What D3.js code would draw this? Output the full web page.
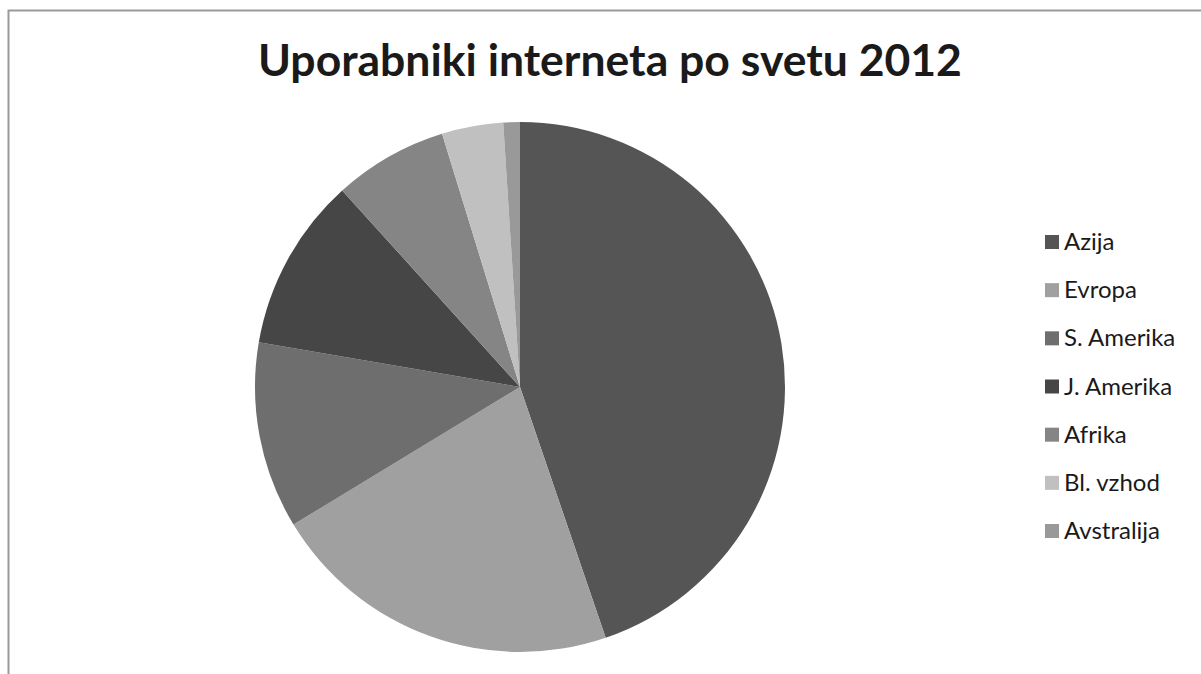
<!DOCTYPE html>
<html>
<head>
<meta charset="utf-8">
<script src="https://cdn.jsdelivr.net/npm/d3@7"></script>
<style>
  html, body { margin: 0; padding: 0; background: #fff; }
  svg { display: block; }
</style>
</head>
<body>
<svg id="chart" width="1201" height="674"></svg>
<script>
// Internet users by world region, 2012 (millions)
const regions = ["Azija", "Evropa", "S. Amerika", "J. Amerika", "Afrika", "Bl. vzhod", "Avstralija"];
const users = [1076.7, 518.5, 273.8, 254.9, 167.3, 90.0, 24.3];
const shades = ["#555555", "#a0a0a0", "#6e6e6e", "#464646", "#858585", "#c0c0c0", "#999999"];
const title = "Uporabniki interneta po svetu 2012";

const svg = d3.select("#chart");
const font = "Lato, 'Open Sans', sans-serif";

// chart frame (top and left edges visible)
svg.append("path")
  .attr("d", "M8.5,674 V10.5 H1201")
  .attr("fill", "none")
  .attr("stroke", "#9a9a9a")
  .attr("stroke-width", 2);

svg.append("text")
  .attr("x", 610)
  .attr("y", 76)
  .attr("text-anchor", "middle")
  .attr("font-family", font)
  .attr("font-weight", "bold")
  .attr("font-size", 44.5)
  .attr("fill", "#1a1a1a")
  .text(title);

const color = d3.scaleOrdinal().domain(regions).range(shades);

const pie = d3.pie().sort(null).value(d => d.v);
const data = regions.map((r, i) => ({ r, v: users[i] }));
const arc = d3.arc().innerRadius(0).outerRadius(265);

svg.append("g")
  .attr("transform", "translate(520,387)")
  .selectAll("path")
  .data(pie(data))
  .join("path")
  .attr("d", arc)
  .attr("fill", d => color(d.data.r));

// legend
const ly = d3.scalePoint().domain(regions).range([242, 531]);
const legend = svg.append("g")
  .selectAll("g")
  .data(regions)
  .join("g")
  .attr("transform", d => `translate(1045,${ly(d)})`);

legend.append("rect")
  .attr("x", 0).attr("y", -7)
  .attr("width", 14).attr("height", 14)
  .attr("fill", d => color(d));

legend.append("text")
  .attr("x", 19)
  .attr("y", 8)
  .attr("font-family", font)
  .attr("font-size", 24)
  .attr("fill", "#1a1a1a")
  .text(d => d);
</script>
</body>
</html>
